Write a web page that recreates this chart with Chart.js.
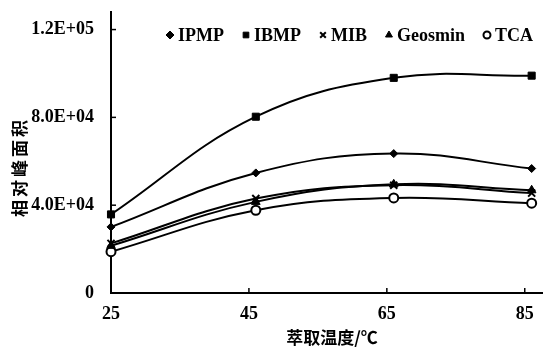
<!DOCTYPE html>
<html>
<head>
<meta charset="utf-8">
<script src="https://cdn.jsdelivr.net/npm/chart.js@4.4.1/dist/chart.umd.min.js"></script>
<style>
	html, body { margin: 0; padding: 0; background: #fff; }
	#wrap { width: 549px; height: 348px; position: relative; }
</style>
</head>
<body>
<div id="wrap"><canvas id="chart"></canvas></div>
<script>
const temps = [25, 46, 66, 86];
const ipmp = [30100, 54700, 63500, 56700];
const ibmp = [35800, 80300, 98000, 99000];
const mib = [22600, 43000, 49100, 45500];
const geosmin = [21500, 41500, 49500, 46800];
const tca = [18800, 37700, 43300, 40900];

const xTicks = [25, 45, 65, 85];
const yTicks = [0, 40000, 80000, 120000];
const yTickLabels = ['0', '4.0E+04', '8.0E+04', '1.2E+05'];

const xTitle = '萃取温度/℃';
const yTitle = '相对峰面积';

const serif = '"Liberation Serif", "Times New Roman", serif';
const cjk = '"Noto Sans CJK SC", sans-serif';

function series(label, values, style, extra) {
	return Object.assign({
		label,
		data: temps.map((t, i) => ({ x: t, y: values[i] })),
		borderColor: '#000',
		backgroundColor: '#000',
		borderWidth: 2,
		tension: 0.4,
		pointStyle: style,
		pointRadius: 4,
		pointBorderWidth: 1,
		pointBorderColor: '#000',
		pointBackgroundColor: '#000',
		clip: false,
	}, extra || {});
}

const datasets = [
	series('IPMP', ipmp, 'rectRot', { pointRadius: 4 }),
	series('IBMP', ibmp, 'rect', { pointRadius: 5 }),
	series('MIB', mib, 'crossRot', { pointRadius: 5, pointBorderWidth: 2 }),
	series('Geosmin', geosmin, 'triangle', { pointRadius: 5 }),
	series('TCA', tca, 'circle', { pointRadius: 4.5, pointBorderWidth: 2, pointBackgroundColor: '#fff' }),
];

// legend inside the plot, inward tick marks, axis titles
const extras = {
	id: 'extras',
	afterDraw(chart) {
		const ctx = chart.ctx;
		const xs = chart.scales.x, ys = chart.scales.y;
		const area = chart.chartArea;
		ctx.save();
		ctx.strokeStyle = '#000';
		ctx.lineWidth = 1.5;
		xTicks.slice(1).forEach(v => {
			const px = xs.getPixelForValue(v);
			ctx.beginPath();
			ctx.moveTo(px, area.bottom);
			ctx.lineTo(px, area.bottom - 5);
			ctx.stroke();
		});
		yTicks.slice(1).forEach(v => {
			const py = ys.getPixelForValue(v);
			ctx.beginPath();
			ctx.moveTo(area.left, py);
			ctx.lineTo(area.left + 5, py);
			ctx.stroke();
		});

		// legend row
		ctx.font = 'bold 18px ' + serif;
		ctx.textBaseline = 'middle';
		ctx.textAlign = 'left';
		let lx = 170;
		const ly = 35;
		chart.data.datasets.forEach(ds => {
			ctx.fillStyle = ds.pointBackgroundColor;
			ctx.strokeStyle = '#000';
			ctx.lineWidth = ds.pointBorderWidth;
			const r = ds.pointStyle === 'circle' ? 3.5 : 4;
			Chart.helpers.drawPoint(ctx, { pointStyle: ds.pointStyle, radius: r, borderWidth: ds.pointBorderWidth, rotation: 0 }, lx, ly);
			ctx.fillStyle = '#000';
			ctx.fillText(ds.label, lx + 8, ly + 1);
			lx += 8 + ctx.measureText(ds.label).width + 22;
		});

		ctx.fillStyle = '#000';
		ctx.font = 'bold 17px ' + cjk;
		ctx.textAlign = 'center';
		ctx.fillText(xTitle, 332, 338);
		ctx.translate(20, 167);
		ctx.rotate(-Math.PI / 2);
		ctx.letterSpacing = '3px';
		ctx.fillText(yTitle, 0, 0);
		ctx.restore();
	},
};

new Chart(document.getElementById('chart'), {
	type: 'line',
	data: { datasets },
	plugins: [extras],
	options: {
		responsive: true,
		maintainAspectRatio: false,
		animation: false,
		layout: { padding: { top: 12, right: 0, left: 0, bottom: 0 } },
		plugins: {
			tooltip: { enabled: false },
			legend: { display: false },
		},
		scales: {
			x: {
				type: 'linear',
				min: 25,
				max: 87.5,
				afterBuildTicks: (s) => { s.ticks = xTicks.map(v => ({ value: v })); },
				afterFit: (s) => { s.height = 55; s.paddingLeft = 0; s.paddingRight = 0; },
				border: { color: '#000', width: 2 },
				grid: { display: false },
				ticks: {
					color: '#000',
					padding: 3,
					maxRotation: 0,
					font: { family: serif, size: 18, weight: 'bold' },
				},
			},
			y: {
				min: 0,
				max: 128000,
				afterBuildTicks: (s) => { s.ticks = yTicks.map(v => ({ value: v })); },
				afterFit: (s) => { s.width = 111; s.paddingTop = 0; s.paddingBottom = 0; },
				border: { color: '#000', width: 2 },
				grid: { display: false },
				ticks: {
					color: '#000',
					padding: 9,
					font: { family: serif, size: 18, weight: 'bold' },
					callback: (v) => {
						const i = yTicks.indexOf(v);
						return i >= 0 ? yTickLabels[i] : '';
					},
				},
			},
		},
	},
});
</script>
</body>
</html>
